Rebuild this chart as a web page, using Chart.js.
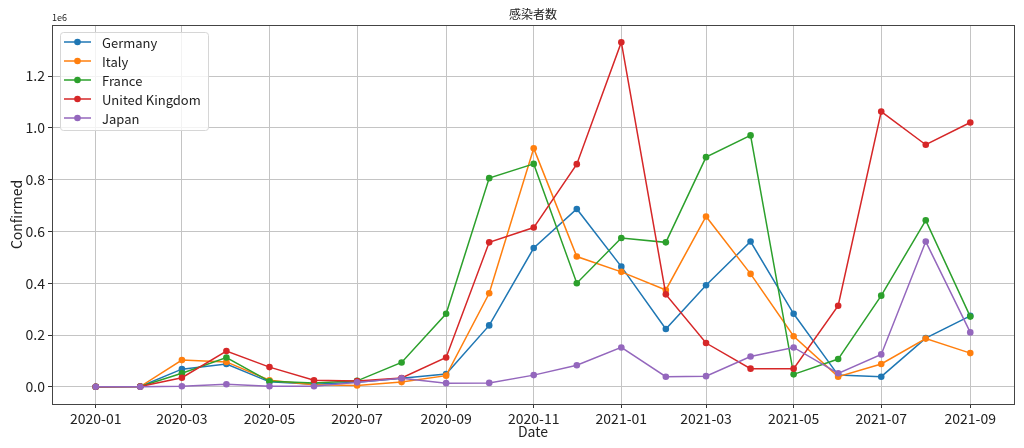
<!DOCTYPE html>
<html><head><meta charset="utf-8">
<script src="https://cdn.jsdelivr.net/npm/chart.js@4.4.1/dist/chart.umd.min.js"></script>
<style>html,body{margin:0;padding:0;background:#fff}canvas{display:block}</style>
</head><body>
<canvas id="c" width="1024" height="448"></canvas>
<script>
const months = ['2020-01','2020-02','2020-03','2020-04','2020-05','2020-06','2020-07','2020-08','2020-09','2020-10','2020-11','2020-12','2021-01','2021-02','2021-03','2021-04','2021-05','2021-06','2021-07','2021-08','2021-09'];
const germany = [0, 1000, 68000, 88000, 19000, 10000, 17000, 33000, 49000, 237000, 536000, 687000, 464000, 223000, 392000, 561000, 282000, 45000, 39000, 188000, 274000];
const italy   = [0, 1000, 103000, 96000, 25000, 8000, 5000, 18000, 43000, 361000, 921000, 503000, 444000, 374000, 658000, 436000, 195000, 39000, 88000, 186000, 130000];
const france  = [0, 1000, 52000, 113000, 21000, 15000, 23000, 94000, 282000, 806000, 861000, 400000, 575000, 558000, 887000, 971000, 48000, 107000, 352000, 643000, 271000];
const uk      = [0, 1000, 35000, 138000, 76000, 25000, 22000, 34000, 113000, 558000, 615000, 860000, 1331000, 357000, 169000, 70000, 70000, 313000, 1063000, 935000, 1021000];
const japan   = [0, 200, 2000, 10000, 2000, 2000, 17000, 33000, 14000, 15000, 45000, 83000, 152000, 39000, 41000, 117000, 152000, 52000, 125000, 561000, 210000];
const seriesNames = ['Germany','Italy','France','United Kingdom','Japan'];
const xTickLabels = ['2020-01','2020-03','2020-05','2020-07','2020-09','2020-11','2021-01','2021-03','2021-05','2021-07','2021-09'];
const yTickValues = [0, 200000, 400000, 600000, 800000, 1000000, 1200000];

const colors = ['#1f77b4','#ff7f0e','#2ca02c','#d62728','#9467bd'];
const allSeries = [germany, italy, france, uk, japan];
const FONT = "'Noto Sans CJK JP', 'DejaVu Sans', sans-serif";
const toDays = s => { const [y,m] = s.split('-').map(Number); return Date.UTC(y, m-1, 1) / 86400000; };
const xs = months.map(toDays);
const span = xs[xs.length-1] - xs[0];
const allVals = allSeries.flat();
const yMaxData = Math.max(...allVals), yMinData = Math.min(...allVals);
const yPad = (yMaxData - yMinData) * 0.05;

const datasets = seriesNames.map((name, i) => ({
  label: name,
  data: allSeries[i].map((v, j) => ({x: xs[j], y: v})),
  borderColor: colors[i],
  backgroundColor: colors[i],
  borderWidth: 1.5,
  pointRadius: 3.3,
  pointHoverRadius: 3.3,
  pointBorderWidth: 0,
  tension: 0,
  order: 4 - i
}));

const framePlugin = {
  id: 'frame',
  afterDatasetsDraw(chart) {
    const {ctx, chartArea: a} = chart;
    ctx.save();
    ctx.strokeStyle = '#444';
    ctx.lineWidth = 1;
    ctx.strokeRect(Math.round(a.left) + 0.5, Math.round(a.top) + 0.5, Math.round(a.right - a.left), Math.round(a.bottom - a.top));
    // legend
    const lx = 60, ly = 32, lw = 148, lh = 98;
    ctx.fillStyle = 'rgba(255,255,255,0.8)';
    ctx.strokeStyle = '#d6d6d6';
    ctx.beginPath();
    if (ctx.roundRect) ctx.roundRect(lx + 0.5, ly + 0.5, lw, lh, 3); else ctx.rect(lx + 0.5, ly + 0.5, lw, lh);
    ctx.fill(); ctx.stroke();
    ctx.font = '13px ' + FONT;
    ctx.textBaseline = 'middle';
    ctx.textAlign = 'left';
    chart.data.datasets.forEach((ds, i) => {
      const y = 42 + i * 19;
      ctx.strokeStyle = ds.borderColor;
      ctx.lineWidth = 1.5;
      ctx.beginPath(); ctx.moveTo(64, y); ctx.lineTo(91, y); ctx.stroke();
      ctx.fillStyle = ds.borderColor;
      ctx.beginPath(); ctx.arc(77.5, y, 3.3, 0, Math.PI * 2); ctx.fill();
      ctx.fillStyle = '#222';
      ctx.fillText(ds.label, 102, y + 1);
    });
    // title and offset text
    ctx.fillStyle = '#222';
    ctx.textAlign = 'center';
    ctx.font = '12px ' + FONT;
    ctx.fillText('感染者数', (a.left + a.right) / 2, 14);
    ctx.textAlign = 'left';
    ctx.font = '9px ' + FONT;
    ctx.fillText('1e6', a.left, 18);
    ctx.restore();
  }
};

new Chart(document.getElementById('c'), {
  type: 'line',
  data: { datasets },
  options: {
    responsive: false,
    animation: false,
    devicePixelRatio: 1,
    layout: { padding: { top: 25, right: 10, left: 0, bottom: 0 } },
    plugins: { legend: { display: false }, title: { display: false }, tooltip: { enabled: false } },
    scales: {
      x: {
        type: 'linear',
        min: xs[0] - span * 0.05,
        max: xs[xs.length-1] + span * 0.05,
        afterBuildTicks: s => { s.ticks = xTickLabels.map(l => ({ value: toDays(l) })); },
        afterFit: s => { s.height = 44; },
        ticks: {
          autoSkip: false, maxRotation: 0, padding: 2,
          color: '#222', font: { family: FONT, size: 14 },
          callback: (v, i) => xTickLabels[i]
        },
        grid: { color: '#c4c4c4', lineWidth: 1, tickColor: '#333', tickLength: 4 },
        border: { display: false },
        title: { display: true, text: 'Date', color: '#222', font: { family: FONT, size: 14 }, padding: { top: 0, bottom: 8 } }
      },
      y: {
        min: yMinData - yPad,
        max: yMaxData + yPad,
        afterBuildTicks: s => { s.ticks = yTickValues.map(v => ({ value: v })); },
        afterFit: s => { s.width = 52; },
        ticks: {
          padding: 3, color: '#222', font: { family: FONT, size: 14 },
          callback: v => (v / 1e6).toFixed(1)
        },
        grid: { color: '#c4c4c4', lineWidth: 1, tickColor: '#333', tickLength: 4 },
        border: { display: false },
        title: { display: true, text: 'Confirmed', color: '#222', font: { family: FONT, size: 14 }, padding: { top: 8, bottom: 0 } }
      }
    }
  },
  plugins: [framePlugin]
});
</script>
</body></html>
